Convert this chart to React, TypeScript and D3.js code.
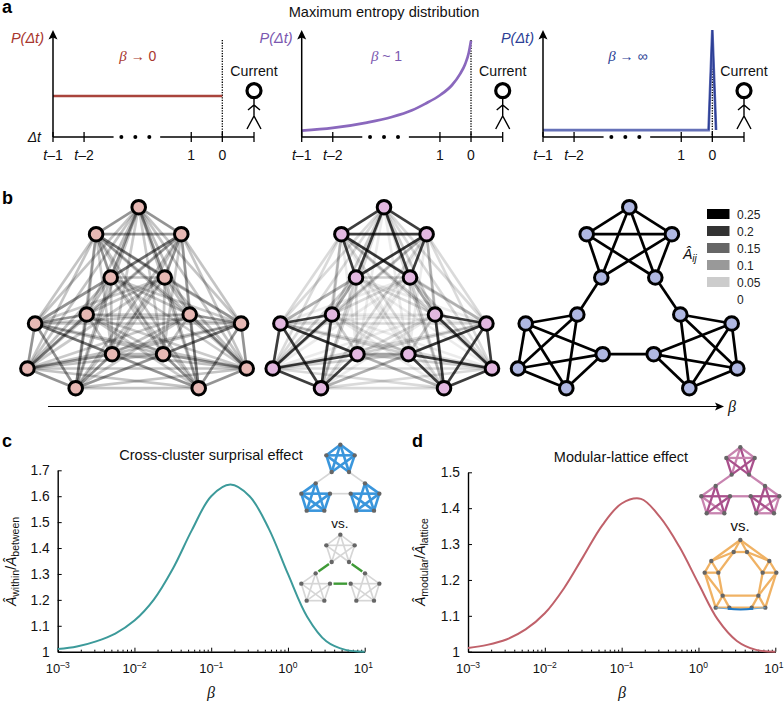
import { useEffect, useRef } from 'react'
import * as d3 from 'd3'

const sans = '"Liberation Sans", Arial, sans-serif'
const serif = '"Liberation Serif", serif'

// panel a: position is steps before "now", P is the drawn height
const tickNames = ['t–1', 't–2', '1', '0', '']
const tickSteps = [-5.45, -4.45, -1, 0, 1.02]
const flatCurve = [[-5.45, 0.383], [0, 0.383]]
const midCurve = [[-5.45, 0.059], [-4.45, 0.085], [-3.35, 0.135], [-2.55, 0.187], [-1.9, 0.25], [-1.48, 0.31], [-1, 0.39], [-0.61, 0.486], [-0.35, 0.59], [-0.19, 0.68], [-0.07, 0.79], [0, 0.9]]
const spikeCurve = [[-5.45, 0.065], [-0.12, 0.065], [0, 1], [0.12, 0.065]]
const panelTitles = ['β → 0', 'β ~ 1', 'β → ∞']
const panelColors = ['#a8362e', '#7b58b0', '#2c3f96']

// panel b: one layout shared by all networks
const layout = [[0, 0], [-42.6, 27], [42.6, 27], [-28, 70.3], [26, 70.3],
  [-52, 107.3], [-26.6, 147], [-103.6, 116.3], [-111.3, 161.3], [-63, 181],
  [51, 107.3], [24.4, 147], [102.4, 116.3], [108, 161.3], [60, 181]]
const within = [[0, 1], [0, 2], [0, 3], [0, 4], [1, 2], [1, 3], [1, 4], [2, 3], [2, 4]]
const bridges = [[3, 5], [4, 10], [6, 11]]
const networkX = [138.7, 384, 629.3]
const networkFill = ['#e6b8b4', '#e2b8e0', '#b0b8e2']
const withinWeight = [0.105, 0.19, 0.25]
const bridgeWeight = [0.065, 0.09, 0.25]
const farWeight = [[0.062, 0.058, 0.052], [0.048, 0.036, 0.02], [0, 0, 0]]
const legendValues = [0.25, 0.2, 0.15, 0.1, 0.05, 0]

// panels c and d
const logBeta = [-3, -2.75, -2.5, -2.25, -2, -1.75, -1.5, -1.25, -1, -0.75, -0.5, -0.25, 0, 0.25, 0.5, 0.75, 1]
const withinBetween = [1.01, 1.02, 1.04, 1.07, 1.12, 1.2, 1.32, 1.47, 1.6, 1.645, 1.6, 1.475, 1.3, 1.135, 1.04, 1.007, 1]
const modularLattice = [1.01, 1.019, 1.034, 1.062, 1.107, 1.177, 1.265, 1.353, 1.413, 1.426, 1.375, 1.293, 1.19, 1.09, 1.03, 1.005, 1]
const cTicks = [1, 1.1, 1.2, 1.3, 1.4, 1.5, 1.6, 1.7]
const dTicks = [1, 1.1, 1.2, 1.3, 1.4, 1.5]
const decades = [-3, -2, -1, 0, 1]

// insets
const insetNodes = [[133, 14], [91, 46], [176, 46], [107, 96], [159, 96],
  [59, 130], [102, 161], [16, 161], [32, 212], [85, 212],
  [207, 130], [164, 161], [250, 161], [234, 212], [181, 212]]
const latticeNodes = [[136, 30], [116, 66], [156, 66], [49, 93], [29, 128], [70, 128],
  [223, 93], [203, 128], [244, 128], [83, 197], [62, 233], [103, 233],
  [190, 197], [170, 233], [211, 233]]
const latticeEdges = [[0, 1], [0, 2], [1, 2], [3, 4], [3, 5], [4, 5], [6, 7], [6, 8], [7, 8],
  [9, 10], [9, 11], [10, 11], [12, 13], [12, 14], [13, 14],
  [0, 3], [0, 6], [1, 3], [1, 5], [2, 6], [2, 7],
  [4, 10], [4, 9], [5, 9], [8, 14], [8, 12], [7, 12], [9, 12], [11, 13]]

const moduleEdges = [0, 5, 10].flatMap((_, m) => within.map(([a, b]) => {
  const map = m === 0 ? [0, 1, 2, 3, 4] : m === 1 ? [7, 8, 9, 5, 6] : [12, 13, 14, 10, 11]
  return [map[a], map[b]]
}))

function hops() {
  const all = [...moduleEdges, ...bridges]
  return layout.map((_, s) => {
    const dist = layout.map(() => Infinity)
    dist[s] = 0
    let queue = [s]
    while (queue.length) {
      const next = []
      queue.forEach(n => all.forEach(([a, b]) => {
        const o = a === n ? b : b === n ? a : -1
        if (o >= 0 && dist[o] === Infinity) { dist[o] = dist[n] + 1; next.push(o) }
      }))
      queue = next
    }
    return dist
  })
}

function PanelA({ offset, index, curve }) {
  const x = d3.scaleLinear().domain([-5.45, 1.02]).range([53 + offset, 254 + offset])
  const y = d3.scaleLinear().domain([0, 1]).range([137, 30])
  const line = d3.line().x(d => x(d[0])).y(d => y(d[1]))
    .curve(index === 1 ? d3.curveMonotoneX : d3.curveLinear)
  const color = panelColors[index]
  const x0 = x(0)
  const man = x(1.02)
  return (
    <g>
      <text x={x(-5.45) - 9} y={43} textAnchor="end" fontSize={14.5} fontStyle="italic" fill={color}>P(<tspan>Δt</tspan>)</text>
      <text x={x(-2.72)} y={61} textAnchor="middle" fontSize={14} fill={color}>
        <tspan fontFamily={serif} fontStyle="italic" fontSize={15}>β</tspan>{panelTitles[index].slice(1)}
      </text>
      <line x1={x0} x2={x0} y1={40} y2={137} stroke="#000" strokeWidth={1.3} strokeDasharray="1.3 1.3" />
      <path d={line(curve)} fill="none" stroke={index === 0 ? '#a9443c' : index === 1 ? '#8a68bd' : '#6571b8'} strokeWidth={2.7} />
      {index === 2 && <path d={line(curve.slice(1))} fill="none" stroke="#2c3f96" strokeWidth={1.5} />}
      <line x1={x(-5.45)} x2={x(-5.45)} y1={137} y2={36} stroke="#000" strokeWidth={1.5} />
      <path d={`M${x(-5.45)},30l-4.5,9.5l4.5,-2l4.5,2z`} fill="#000" />
      <line x1={x(-5.45)} x2={x(-3.5)} y1={137} y2={137} stroke="#000" strokeWidth={1.5} />
      <line x1={x(-2.0)} x2={man} y1={137} y2={137} stroke="#000" strokeWidth={1.5} />
      {[-3.25, -2.8, -2.35].map(d => <circle key={d} cx={x(d)} cy={137} r={2} fill="#000" />)}
      {tickSteps.map((t, i) => (
        <g key={i}>
          <line x1={x(t)} x2={x(t)} y1={132} y2={142} stroke="#000" strokeWidth={1.3} />
          <text x={x(t)} y={160} textAnchor="middle" fontSize={14} fill="#111">
            {tickNames[i].startsWith('t') ? <><tspan fontStyle="italic">t</tspan>{tickNames[i].slice(1)}</> : tickNames[i]}
          </text>
        </g>
      ))}
      {index === 0 && <text x={41} y={142} textAnchor="end" fontSize={14} fontStyle="italic" fill="#111">Δt</text>}
      <text x={man} y={76} textAnchor="middle" fontSize={14.2} fill="#111">Current</text>
      <circle cx={man} cy={90.7} r={7} fill="none" stroke="#000" strokeWidth={3.2} />
      <path d={`M${man},99V116M${man - 6},110L${man},105L${man + 6},110M${man - 7},129L${man},116L${man + 7},129`} fill="none" stroke="#000" strokeWidth={1.4} />
    </g>
  )
}

function Network({ index, dist }) {
  const x = d3.scaleLinear().domain([0, 1]).range([networkX[index], networkX[index] + 1])
  const y = d3.scaleLinear().domain([0, 1]).range([207.2, 208.2])
  const shade = d3.scaleLinear().domain([0, 0.25]).range([0, 1])
  const pairs = []
  layout.forEach((_, a) => layout.forEach((_, b) => { if (a < b) pairs.push([a, b]) }))
  const isWithin = (a, b) => moduleEdges.some(e => e[0] === a && e[1] === b || e[0] === b && e[1] === a)
  const isBridge = (a, b) => bridges.some(e => e[0] === a && e[1] === b || e[0] === b && e[1] === a)
  const weight = (a, b) => {
    if (isWithin(a, b)) return withinWeight[index]
    if (isBridge(a, b)) return bridgeWeight[index]
    return farWeight[index][Math.min(dist[a][b], 4) - 2]
  }
  const sorted = pairs.map(p => ({ p, w: weight(p[0], p[1]) })).filter(d => d.w > 0).sort((m, n) => m.w - n.w)
  return (
    <g>
      {sorted.map(({ p, w }) => (
        <line key={p.join('-')} x1={x(layout[p[0]][0])} y1={y(layout[p[0]][1])} x2={x(layout[p[1]][0])} y2={y(layout[p[1]][1])}
          stroke="#000" strokeOpacity={shade(w)} strokeWidth={2.7} />
      ))}
      {layout.map((n, i) => (
        <circle key={i} cx={x(n[0])} cy={y(n[1])} r={6.8} fill={networkFill[index]} stroke="#000" strokeWidth={3} />
      ))}
    </g>
  )
}

function Inset({ nodes, edges, left, top, styleOf }) {
  const x = d3.scaleLinear().domain([0, 3]).range([left, left + 1])
  const y = d3.scaleLinear().domain([0, 3]).range([top, top + 1])
  return (
    <g>
      {edges.map((e, i) => {
        const s = styleOf(e, i)
        const ax = x(nodes[e[0]][0]), ay = y(nodes[e[0]][1]), bx = x(nodes[e[1]][0]), by = y(nodes[e[1]][1])
        const t = s.trim || 0
        return <line key={i} x1={ax + (bx - ax) * t} y1={ay + (by - ay) * t} x2={bx - (bx - ax) * t} y2={by - (by - ay) * t} stroke={s.color} strokeWidth={s.width} />
      })}
      {nodes.map((n, i) => <circle key={i} cx={x(n[0])} cy={y(n[1])} r={2.2} fill="#666" />)}
    </g>
  )
}

function LogPanel({ left, right, yRange, domain, ticks, values, color, title, titleX, titleY, label, labelX, labelY, sub1, sub2, axisX, axisY, betaX }) {
  const ref = useRef(null)
  const x = d3.scaleLog().domain([1e-3, 10]).range([left, right])
  const y = d3.scaleLinear().domain(domain).range(yRange)
  const line = d3.line().x((d, i) => x(Math.pow(10, logBeta[i]))).y(d => y(d)).curve(d3.curveCatmullRom)

  useEffect(() => {
    const g = d3.select(ref.current)
    g.selectAll('*').remove()
    const minor = []
    decades.forEach(k => d3.range(1, 10).forEach(m => { if (k < 1 || m === 1) minor.push(m * Math.pow(10, k)) }))
    const xAxis = g.append('g').attr('transform', `translate(0,${yRange[0]})`)
      .call(d3.axisBottom(x).tickValues(minor).tickFormat(() => '').tickSize(-2).tickSizeOuter(0))
    xAxis.selectAll('line')
      .attr('y2', d => Number.isInteger(Math.round(Math.log10(d) * 1000) / 1000) ? -4 : -2)
      .attr('stroke', '#000').attr('stroke-width', 1)
    xAxis.select('.domain').attr('stroke', '#000').attr('stroke-width', 1.4)
    xAxis.selectAll('text').remove()

    const yAxis = g.append('g').attr('transform', `translate(${left},0)`)
      .call(d3.axisLeft(y).tickValues(ticks).tickFormat(d => String(d)).tickSize(-4).tickSizeOuter(0))
    yAxis.select('.domain').attr('stroke', '#000').attr('stroke-width', 1.4)
    yAxis.selectAll('line').attr('stroke', '#000').attr('stroke-width', 1)
    yAxis.selectAll('text').attr('x', -8).attr('font-size', 13.8).attr('font-family', sans).attr('fill', '#111')

    const labels = g.append('g')
    decades.forEach(k => {
      const t = labels.append('text')
        .attr('x', x(Math.pow(10, k)) + (k === 1 ? -1.4 : 0))
        .attr('y', yRange[0] + 21.5)
        .attr('text-anchor', 'middle')
        .attr('font-size', 13)
        .attr('font-family', sans)
        .attr('fill', '#111')
      t.append('tspan').text('10')
      t.append('tspan').attr('dy', -5.5).attr('font-size', 8.5).text(k < 0 ? `–${-k}` : `${k}`)
    })
  }, [])

  return (
    <g>
      <text x={titleX} y={titleY} textAnchor="middle" fontSize={14.5} fill="#111">{title}</text>
      <g ref={ref} />
      <path d={line(values)} fill="none" stroke={color} strokeWidth={2} />
      <text x={labelX} y={labelY} fontSize={18} fontWeight="bold" fill="#000">{label}</text>
      <text transform={`translate(${axisX},${axisY}) rotate(-90)`} textAnchor="middle" fontSize={14} fill="#111">
        <tspan fontStyle="italic">Â</tspan><tspan fontSize={10.5} dy={3}>{sub1}</tspan>
        <tspan dy={-3}>/</tspan><tspan fontStyle="italic">Â</tspan><tspan fontSize={10.5} dy={3}>{sub2}</tspan>
      </text>
      <text x={betaX} y={698} textAnchor="middle" fontSize={16} fontFamily={serif} fontStyle="italic" fill="#111">β</text>
    </g>
  )
}

export default function App() {
  const dist = hops()
  const blue = (e, i) => i < 27 ? { color: '#3a96dc', width: 2.6 } : { color: '#d6d6d6', width: 1.7 }
  const green = (e, i) => i < 27 ? { color: '#d6d6d6', width: 1.7 } : { color: '#3e9a36', width: 2.4, trim: 0.17 }
  const plum = (e, i) => ({ color: i < 27 && i % 9 > 2 && i % 9 !== 4 ? '#a9508c' : '#c884b0', width: 2.3 })
  const orange = () => ({ color: '#f0b264', width: 2.3 })
  const allEdges = [...moduleEdges, ...bridges]

  return (
    <svg width={784} height={701} viewBox="0 0 784 701" fontFamily={sans}
      style={{ position: 'absolute', left: 0, top: 0, background: '#fff' }}>
      <text x={2} y={13} fontSize={18} fontWeight="bold">a</text>
      <text x={2} y={204} fontSize={18} fontWeight="bold">b</text>
      <text x={384} y={17} textAnchor="middle" fontSize={14.6} fill="#111">Maximum entropy distribution</text>
      <PanelA offset={0} index={0} curve={flatCurve} />
      <PanelA offset={248.7} index={1} curve={midCurve} />
      <PanelA offset={490} index={2} curve={spikeCurve} />

      {networkX.map((_, i) => <Network key={i} index={i} dist={dist} />)}

      {legendValues.map((v, i) => (
        <g key={v}>
          {v > 0 && <rect x={707} y={209 + i * 17} width={22.5} height={10} fill="#000" fillOpacity={v / 0.25} />}
          <text x={737} y={219 + i * 17} fontSize={12} fill="#222">{v}</text>
        </g>
      ))}
      <text x={683} y={259} fontSize={14} fontStyle="italic" fill="#111">Â<tspan fontSize={10} dy={3}>ij</tspan></text>

      <line x1={48} x2={718} y1={406.5} y2={406.5} stroke="#000" strokeWidth={1.2} />
      <path d="M724,406.5l-9,-4l2,4l-2,4z" fill="#000" />
      <text x={728} y={412} fontSize={16} fontFamily={serif} fontStyle="italic" fill="#111">β</text>

      <LogPanel left={57.7} right={364.7} yRange={[651.7, 470.3]} domain={[1, 1.7]} ticks={cTicks} values={withinBetween}
        color="#3c9a9a" title="Cross-cluster surprisal effect" titleX={211} titleY={460} label="c" labelX={2} labelY={447}
        sub1="within" sub2="between" axisX={16} axisY={561.5} betaX={211} />
      <LogPanel left={468} right={775.3} yRange={[651.7, 472.3]} domain={[1, 1.5]} ticks={dTicks} values={modularLattice}
        color="#c0616a" title="Modular-lattice effect" titleX={621} titleY={462} label="d" labelX={412} labelY={447}
        sub1="modular" sub2="lattice" axisX={425} axisY={562} betaX={622} />

      <Inset nodes={insetNodes} edges={allEdges} left={296} top={440} styleOf={blue} />
      <text x={340} y={528} textAnchor="middle" fontSize={13.5} fill="#111">vs.</text>
      <Inset nodes={insetNodes} edges={allEdges} left={296} top={530} styleOf={green} />

      <Inset nodes={insetNodes} edges={allEdges} left={696} top={442.6} styleOf={plum} />
      <text x={740} y={530.5} textAnchor="middle" fontSize={15} fill="#111">vs.</text>
      <Inset nodes={latticeNodes} edges={latticeEdges} left={695} top={530} styleOf={orange} />
      <path d="M715.7,607.7Q740.5,611 765.3,607.7" fill="none" stroke="#6aa8dc" strokeWidth={1} />
      <path d="M728,608.8Q740.5,610.2 753,608.8" fill="none" stroke="#1f78c4" strokeWidth={2} />
    </svg>
  )
}
